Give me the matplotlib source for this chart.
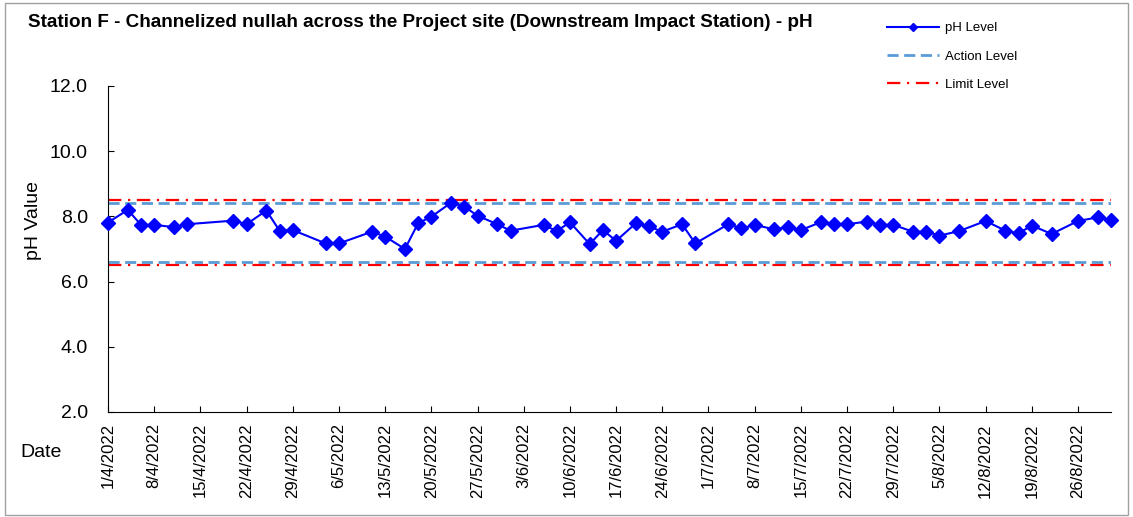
import numpy as np
import matplotlib
matplotlib.use("Agg")
import matplotlib.pyplot as plt
import pandas as pd
from matplotlib.lines import Line2D
from matplotlib.patches import Rectangle

plt.rcParams['font.family'] = ['Liberation Sans', 'DejaVu Sans']

# sampling dates and measured pH
dates = ['1/4/2022', '4/4/2022', '6/4/2022', '8/4/2022', '11/4/2022', '13/4/2022',
         '20/4/2022', '22/4/2022', '25/4/2022', '27/4/2022', '29/4/2022',
         '4/5/2022', '6/5/2022', '11/5/2022', '13/5/2022', '16/5/2022', '18/5/2022',
         '20/5/2022', '23/5/2022', '25/5/2022', '27/5/2022', '30/5/2022',
         '1/6/2022', '6/6/2022', '8/6/2022', '10/6/2022', '13/6/2022', '15/6/2022',
         '17/6/2022', '20/6/2022', '22/6/2022', '24/6/2022', '27/6/2022', '29/6/2022',
         '4/7/2022', '6/7/2022', '8/7/2022', '11/7/2022', '13/7/2022', '15/7/2022',
         '18/7/2022', '20/7/2022', '22/7/2022', '25/7/2022', '27/7/2022', '29/7/2022',
         '1/8/2022', '3/8/2022', '5/8/2022', '8/8/2022', '12/8/2022', '15/8/2022',
         '17/8/2022', '19/8/2022', '22/8/2022', '26/8/2022', '29/8/2022', '31/8/2022']
ph = [7.81, 8.20, 7.74, 7.74, 7.67, 7.76,
      7.87, 7.76, 8.18, 7.56, 7.58,
      7.17, 7.17, 7.53, 7.38, 7.00, 7.79,
      7.99, 8.42, 8.30, 8.02, 7.76,
      7.56, 7.74, 7.55, 7.82, 7.15, 7.58,
      7.25, 7.79, 7.69, 7.53, 7.76, 7.17,
      7.76, 7.63, 7.74, 7.60, 7.67, 7.58,
      7.82, 7.76, 7.76, 7.84, 7.74, 7.74,
      7.53, 7.53, 7.41, 7.55, 7.86, 7.56,
      7.48, 7.72, 7.46, 7.86, 7.97, 7.89]

action_levels = [8.4, 6.6]
limit_levels = [8.5, 6.5]

df = pd.DataFrame({'date': pd.to_datetime(dates, format='%d/%m/%Y'), 'ph': ph})

fig = plt.figure(figsize=(11.33, 5.17), dpi=100)
ax = fig.add_axes([0.0953, 0.2031, 0.8853, 0.6306])

#zorder so the data sits on top of the level lines
for lv in limit_levels:
    ax.axhline(lv, color='#FF0000', lw=1.6, ls=(0, (6, 3, 1, 3)), zorder=1)
for lv in action_levels:
    ax.axhline(lv, color='#5B9BD5', lw=2.0, ls=(0, (4, 2)), zorder=1)
ax.plot(df['date'], df['ph'], color='#0000FF', lw=1.5, marker='D',
        markersize=7.5, zorder=3, clip_on=False)

ax.set_ylim(2, 12)
ax.set_yticks(np.arange(2, 12.1, 2))
ax.yaxis.set_major_formatter(matplotlib.ticker.FormatStrFormatter('%.1f'))
ax.set_xlim(pd.Timestamp('2022-04-01'), pd.Timestamp('2022-08-31'))
ticks = pd.date_range('2022-04-01', '2022-08-31', freq='7D')
ax.set_xticks(ticks)
ax.set_xticklabels([f'{t.day}/{t.month}/{t.year}' for t in ticks],
                   rotation=90, fontsize=12)
ax.tick_params(axis='y', labelsize=14, direction='in', length=4, pad=14.5)
ax.tick_params(axis='x', direction='in', length=4, pad=8)
for s in ['top', 'right']:
    ax.spines[s].set_visible(False)

fig.text(33 / 1133, 1 - 220 / 517, 'pH Value', fontsize=14, rotation=90,
         ha='center', va='center')
fig.text(0.018, 0.124, 'Date', fontsize=14, va='center')
fig.text(0.025, 0.957, 'Station F - Channelized nullah across the Project site (Downstream Impact Station) - pH',
         fontsize=13.6, fontweight='bold', va='center')

handles = [Line2D([], [], color='#0000FF', lw=1.5, marker='D', markersize=4),
           Line2D([], [], color='#5B9BD5', lw=2.0, ls=(0, (4, 2))),
           Line2D([], [], color='#FF0000', lw=1.6, ls=(0, (6, 3, 1, 3)))]
fig.legend(handles, ['pH Level', 'Action Level', 'Limit Level'],
           loc='upper left', bbox_to_anchor=(0.772, 0.98), frameon=False,
           fontsize=9.5, handlelength=4, labelspacing=1.2, handletextpad=0.4)

fig.patches.append(Rectangle((0.004, 0.004), 0.992, 0.99, transform=fig.transFigure,
                             fill=False, edgecolor='#A0A0A0', lw=1))

fig.savefig('out.png', dpi=100)
